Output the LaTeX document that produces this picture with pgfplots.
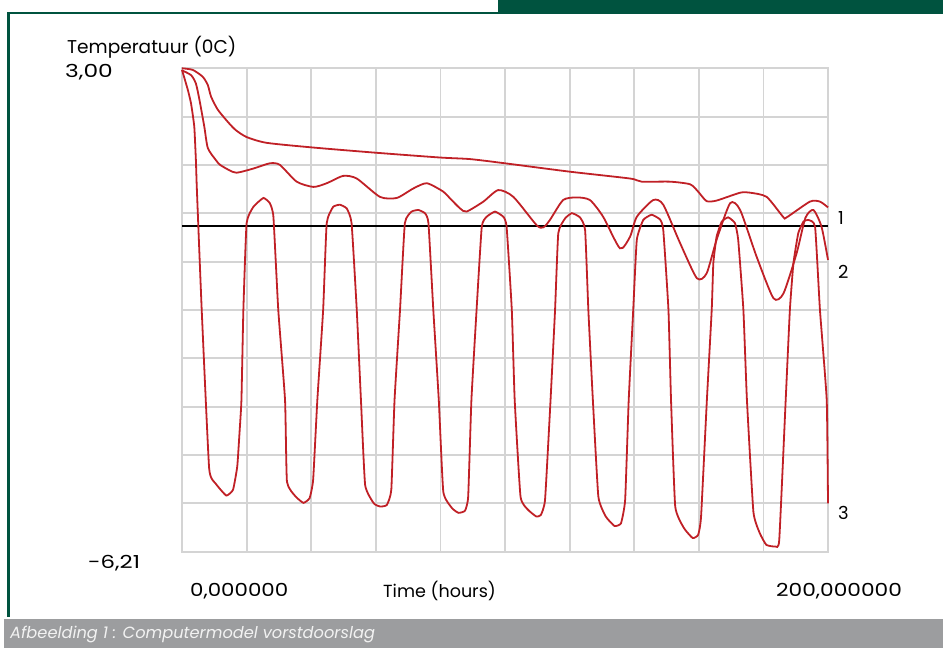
\documentclass[border=0pt]{standalone}
\usepackage{pgfplots}
\pgfplotsset{compat=1.18}
\usepackage{fontspec}
\setmainfont{Poppins}
\definecolor{frgreen}{RGB}{0,83,63}
\definecolor{capgray}{RGB}{156,157,159}
\definecolor{gridgray}{RGB}{212,212,212}
\definecolor{curvered}{RGB}{192,32,38}
\newcommand{\lbl}{\fontsize{18}{20}\selectfont}
\begin{document}
\begin{tikzpicture}
\path[use as bounding box] (0bp,0bp) rectangle (943bp,648bp);
% frame
\fill[frgreen] (498bp,648bp) rectangle (943bp,636bp);
\fill[frgreen] (7bp,636bp) rectangle (943bp,633.5bp);
\fill[frgreen] (7bp,636bp) rectangle (9.8bp,31bp);
\fill[capgray] (4bp,0bp) rectangle (943bp,29bp);
\node[anchor=west,inner sep=0pt,text=white!90!gray,font=\itshape\fontsize{16.3}{18}\selectfont] at (10bp,14bp) {Afbeelding 1 : Computermodel vorstdoorslag};
% labels
\node[anchor=west,inner sep=0pt,font=\fontsize{18.6}{20}\selectfont] at (67bp,601bp) {Temperatuur (0C)};
\node[anchor=west,inner sep=0pt,font=\lbl] at (65bp,576bp) {\scalebox{1.3}[1]{3,00}};
\node[anchor=west,inner sep=0pt,font=\lbl] at (88bp,85bp) {\scalebox{1.27}[1]{-6,21}};
\node[anchor=west,inner sep=0pt,font=\lbl] at (190bp,57bp) {\scalebox{1.19}[1]{0,000000}};
\node[anchor=west,inner sep=0pt,font=\fontsize{17.6}{20}\selectfont] at (383bp,57bp) {Time (hours)};
\node[anchor=west,inner sep=0pt,font=\lbl] at (776bp,57bp) {\scalebox{1.21}[1]{200,000000}};
\node[anchor=west,inner sep=0pt,font=\lbl] at (838bp,430bp) {1};
\node[anchor=west,inner sep=0pt,font=\lbl] at (838bp,376bp) {2};
\node[anchor=west,inner sep=0pt,font=\lbl] at (838bp,135bp) {3};
\begin{axis}[at={(182bp,96.3bp)},anchor=south west,scale only axis,
  width=646bp,height=483.4bp,
  xmin=0,xmax=200,ymin=-6.21,ymax=3,
  xtick={0,20,...,200},
  ytick={-6.21,-5.289,-4.368,-3.447,-2.526,-1.605,-0.684,0.237,1.158,2.079,3},
  xticklabels={},yticklabels={},major tick length=0pt,
  grid=major,grid style={gridgray,line width=1.8bp},
  axis line style={gridgray,line width=1.8bp},
  clip=false]
\addplot[black,line width=2bp] coordinates {(0,0) (200,0)};
% curve 1
\addplot[curvered,line width=1.8bp,smooth,tension=0.4] coordinates {
(0,3.00) (3.3,2.97) (6.4,2.84) (8.0,2.68) (9.0,2.46) (11.1,2.21) (14.6,1.95) (16.7,1.82) (20.0,1.69) (26.2,1.58) (40.7,1.49) (60.3,1.39) (79.9,1.30) (89.2,1.27) (100.0,1.19) (120.1,1.03) (138.7,0.90) (142.3,0.84) (151.1,0.84) (157.3,0.79) (159.8,0.65) (162.4,0.47) (165.5,0.48) (172.8,0.63) (175.9,0.63) (181.0,0.55) (186.1,0.17) (187.2,0.16) (194.4,0.46) (197.5,0.46) (200,0.35)};
% curve 2
\addplot[curvered,line width=1.8bp,smooth,tension=0.4] coordinates {
(0,2.96) (2.8,2.87) (4.3,2.71) (5.4,2.40) (6.9,1.89) (8.0,1.48) (10.5,1.25) (11.8,1.16) (14.6,1.06) (16.9,1.01) (22.1,1.09) (27.2,1.19) (30.3,1.16) (35.5,0.84) (40.7,0.74) (44.8,0.81) (49.9,0.95) (54.1,0.90) (61.3,0.55) (66.5,0.53) (71.6,0.71) (75.8,0.81) (80.9,0.65) (83.0,0.52) (86.1,0.33) (88.1,0.27) (93.3,0.46) (97.9,0.68) (102.6,0.55) (109.8,0.01) (111.9,-0.03) (113.9,0.11) (118.0,0.49) (122.2,0.54) (126.3,0.49) (130.4,0.17) (135.6,-0.43) (138.7,-0.21) (140.8,0.17) (145.9,0.49) (149.0,0.40) (154.2,-0.33) (159.4,-1.00) (162.4,-0.91) (165.5,-0.27) (169.7,0.43) (172.8,0.30) (177.9,-0.59) (183.1,-1.38) (186.2,-1.29) (190.3,-0.52) (193.0,0.15) (195.5,0.30) (198.0,-0.02) (200,-0.65)};
% curve 3
\addplot[curvered,line width=1.8bp,smooth,tension=0.25] coordinates {
(0,2.97) (1.8,2.59) (2.8,2.33) (3.8,1.89) (4.3,1.25) (4.6,0.70) (6.1,-1.60) (8.4,-4.62) (10.4,-4.91) (13.7,-5.14) (15.8,-5.03) (17.1,-4.59) (17.8,-3.95) (18.4,-3.32) (19.0,-1.60) (20.0,0.05) (22.1,0.36) (25.2,0.53) (27.2,0.43) (28.3,0.17) (29.8,-1.60)
(31.9,-3.32) (32.5,-4.88) (35.2,-5.16) (37.6,-5.28) (39.5,-5.19) (40.6,-4.84) (41.9,-3.32)
(43.7,-1.60) (44.8,0.05) (46.8,0.36) (48.9,0.40) (51.0,0.33) (52.5,0.05) (54.1,-1.60)
(55.4,-3.32) (56.7,-4.94) (59.4,-5.29) (61.4,-5.35) (63.4,-5.32) (64.8,-5.03) (65.8,-3.32)
(67.5,-1.60) (69.0,0.05) (71.1,0.27) (73.2,0.30) (75.2,0.24) (76.3,0.05) (77.8,-1.60)
(79.5,-3.32) (80.9,-5.07) (83.6,-5.38) (85.6,-5.47) (87.6,-5.43) (88.6,-5.16) (89.6,-3.32)
(91.2,-1.60) (92.8,-0.02) (94.3,0.17) (96.9,0.27) (99.5,0.17) (100.5,-0.02) (102.1,-1.60)
(103.0,-3.32) (104.8,-5.16) (107.1,-5.41) (109.7,-5.54) (111.1,-5.51) (112.4,-5.22) (114.1,-3.32)
(115.5,-1.60) (116.5,-0.14) (118.6,0.14) (120.7,0.24) (123.2,0.16) (124.8,-0.08) (125.8,-1.60)
(127.2,-3.32) (128.9,-5.16) (131.2,-5.54) (133.9,-5.72) (135.9,-5.67) (137.2,-5.22) (138.3,-3.32)
(139.7,-1.60) (140.8,-0.27) (142.8,0.11) (145.4,0.21) (148.0,0.12) (149.0,-0.08) (150.6,-1.60)
(151.4,-3.32) (152.7,-5.35) (155.4,-5.76) (158.1,-5.95) (159.8,-5.89) (160.7,-5.54) (162.5,-3.32)
(164.0,-1.60) (164.5,-0.71) (165.5,-0.21) (167.1,0.08) (169.1,0.16) (171.2,0.05) (172.2,-0.27) (173.8,-1.60)
(174.9,-3.32) (176.9,-5.45) (178.9,-5.86) (180.9,-6.08) (183.6,-6.11) (184.9,-5.99) (186.9,-3.32)
(188.2,-1.60) (189.3,-0.71) (190.8,-0.14) (192.4,0.08) (193.9,0.11) (196.0,-0.02) (197.5,-1.60)
(199.6,-3.32) (200,-5.29)};
\end{axis}
\end{tikzpicture}
\end{document}
